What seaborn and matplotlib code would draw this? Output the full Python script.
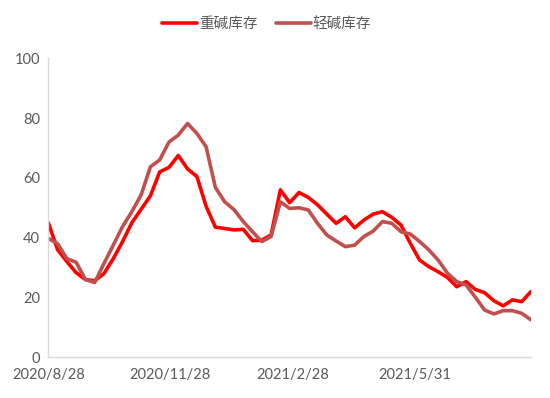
import numpy as np
import pandas as pd
import matplotlib
matplotlib.use("Agg")
import matplotlib.pyplot as plt
import matplotlib.dates as mdates
import seaborn as sns

# ---- data ----
dates = pd.date_range("2020-08-28", periods=53, freq="7D")
heavy = [45, 36, 32, 28.3, 26, 25.6, 28, 33, 38.7, 45,
         49.5, 54, 62, 63.5, 67.5, 63, 60.5, 50.5, 43.5, 43.1,
         42.6, 42.8, 39, 39.2, 40.9, 56, 51.7, 55.1, 53.5, 51,
         47.9, 44.8, 47, 43.3, 45.9, 47.9, 48.7, 46.8, 44.2, 38.1,
         32.5, 30.3, 28.6, 26.7, 23.6, 25.3, 22.7, 21.6, 18.9, 17.2,
         19.2, 18.6, 22]
light = [39.8, 38, 33, 31.8, 26, 25, 31.4, 37.5, 43.7, 48.7,
         54.3, 63.7, 66, 72, 74.3, 78.2, 74.9, 70.4, 56.8, 52,
         49.4, 45.4, 42, 38.7, 40.4, 52, 49.8, 50, 49.3, 44.8,
         40.9, 38.9, 37, 37.5, 40.4, 42.2, 45.4, 44.8, 42, 41.2,
         38.7, 35.9, 32.5, 28.1, 25.3, 24.2, 20.1, 15.8, 14.5, 15.6,
         15.6, 14.7, 12.5]
series_names = ["重碱库存", "轻碱库存"]
tick_dates = ["2020-08-28", "2020-11-28", "2021-02-28", "2021-05-31"]
y_ticks = [0, 20, 40, 60, 80, 100]

df = pd.DataFrame({
    "date": list(dates) * 2,
    "value": heavy + light,
    "series": [series_names[0]] * len(heavy) + [series_names[1]] * len(light),
})

sns.set_theme(style="white")
plt.rcParams["font.family"] = ["Lato", "Noto Sans CJK SC", "DejaVu Sans"]

fig = plt.figure(figsize=(5.5, 3.98), dpi=100)
ax = fig.add_axes([0.0878, 0.1023, 0.8777, 0.7512])

sns.lineplot(data=df, x="date", y="value", hue="series", hue_order=series_names,
             palette=["#ff0000", "#c0504d"], linewidth=2.6, ax=ax, legend=True)

ax.set_xlim(dates[0], dates[-1])
ax.set_ylim(0, 100)
ax.set_yticks(y_ticks)
tds = pd.to_datetime(tick_dates)
ax.set_xticks(tds)
ax.set_xticklabels([f"{d.year}/{d.month}/{d.day}" for d in tds])
ax.set_xlabel("")
ax.set_ylabel("")

for s in ["top", "right"]:
    ax.spines[s].set_visible(False)
for s in ["left", "bottom"]:
    ax.spines[s].set_color("#d9d9d9")
    ax.spines[s].set_linewidth(1.0)

ax.tick_params(axis="both", which="major", length=4, width=1, color="#d9d9d9",
               labelcolor="#595959", labelsize=10.5, direction="out", pad=2)
ax.tick_params(axis="x", pad=4)

handles, labels = ax.get_legend_handles_labels()
leg = fig.legend(handles, labels, loc="center", bbox_to_anchor=(0.485, 0.94),
                 ncol=2, frameon=False, handlelength=2.4, handletextpad=0.15,
                 columnspacing=1.2, prop={"family": ["Noto Sans CJK SC"], "size": 10.5})
for t in leg.get_texts():
    t.set_color("#595959")
ax.get_legend().remove() if ax.get_legend() else None

fig.savefig("out.png", dpi=100)
